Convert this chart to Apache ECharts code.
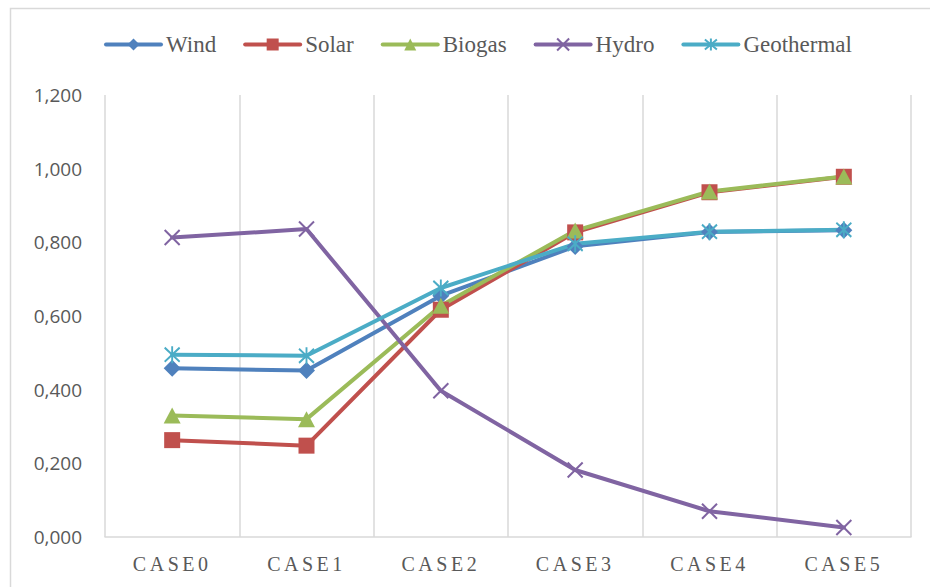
<!DOCTYPE html>
<html>
<head>
<meta charset="utf-8">
<script src="https://cdn.jsdelivr.net/npm/echarts@6/dist/echarts.min.js"></script>
<style>
  html, body { margin: 0; padding: 0; background: #fff; }
  #chart { width: 930px; height: 587px; }
</style>
</head>
<body>
<div id="chart"></div>
<script>
// Scenario categories along the x axis
const cases = ['CASE0', 'CASE1', 'CASE2', 'CASE3', 'CASE4', 'CASE5'];

// Index values per energy source
const wind       = [0.458, 0.452, 0.655, 0.789, 0.828, 0.833];
const solar      = [0.263, 0.248, 0.617, 0.827, 0.936, 0.978];
const biogas     = [0.330, 0.320, 0.628, 0.832, 0.938, 0.979];
const hydro      = [0.813, 0.836, 0.397, 0.182, 0.070, 0.026];
const geothermal = [0.495, 0.492, 0.676, 0.796, 0.829, 0.834];

// Series names in legend order
const sources = ['Wind', 'Solar', 'Biogas', 'Hydro', 'Geothermal'];

// Value axis ticks
const yTicks = { min: 0, max: 1.2, step: 0.2 };

const grey = '#595959';
const gridGrey = '#d9d9d9';
const serif = 'Liberation Serif';

const crossPath = 'path://M0,0L10,10M10,0L0,10';
const starPath = 'path://M1,1L11,11M11,1L1,11M6,0L6,12';

function lineSeries(name, data, color, symbol, size, stroked) {
  return {
    name: name,
    type: 'line',
    data: data,
    symbol: symbol,
    symbolSize: size,
    showAllSymbol: true,
    lineStyle: { color: color, width: 4, cap: 'round', join: 'round' },
    itemStyle: stroked
      ? { color: color, borderColor: color, borderWidth: 2 }
      : { color: color, borderWidth: 0 },
    emphasis: { disabled: true },
    animation: false
  };
}

const chart = echarts.init(document.getElementById('chart'), null, { renderer: 'svg' });

chart.setOption({
  backgroundColor: '#ffffff',
  graphic: [{
    type: 'rect',
    shape: { x: 10.5, y: 8.5, width: 940, height: 620 },
    style: { fill: 'none', stroke: gridGrey, lineWidth: 1.5 },
    silent: true,
    z: -1
  }],
  legend: {
    top: 28,
    left: 99,
    itemWidth: 55,
    itemHeight: 15,
    itemGap: 27,
    lineStyle: { width: 4 },
    textStyle: { fontFamily: serif, fontSize: 23, color: grey },
    data: sources
  },
  grid: { left: 105, right: 19, top: 95, bottom: 50, containLabel: false },
  xAxis: {
    type: 'category',
    data: cases,
    boundaryGap: true,
    axisLine: { show: true, lineStyle: { color: gridGrey, width: 1.5 } },
    axisTick: { show: false },
    splitLine: { show: true, lineStyle: { color: gridGrey, width: 1.5 } },
    axisLabel: {
      fontFamily: serif,
      fontSize: 20,
      color: grey,
      margin: 17
    }
  },
  yAxis: {
    type: 'value',
    min: yTicks.min,
    max: yTicks.max,
    interval: yTicks.step,
    axisLine: { show: false },
    axisTick: { show: false },
    splitLine: { show: false },
    axisLabel: {
      fontFamily: 'Open Sans',
      fontSize: 19,
      color: grey,
      margin: 23,
      formatter: v => v.toFixed(3).replace('.', ',')
    }
  },
  series: [
    lineSeries(sources[0], wind, '#4F81BD', 'diamond', [17, 17], false),
    lineSeries(sources[1], solar, '#C0504D', 'rect', 16, false),
    lineSeries(sources[2], biogas, '#9BBB59', 'triangle', [17, 16], false),
    lineSeries(sources[3], hydro, '#8064A2', crossPath, 15, true),
    lineSeries(sources[4], geothermal, '#4BACC6', starPath, [15, 17], true)
  ]
});

// Spaced capitals for the scenario labels
document.querySelectorAll('#chart svg text').forEach(t => {
  if (/^CASE\d$/.test(t.textContent)) t.setAttribute('letter-spacing', '3.5');
});
</script>
</body>
</html>
